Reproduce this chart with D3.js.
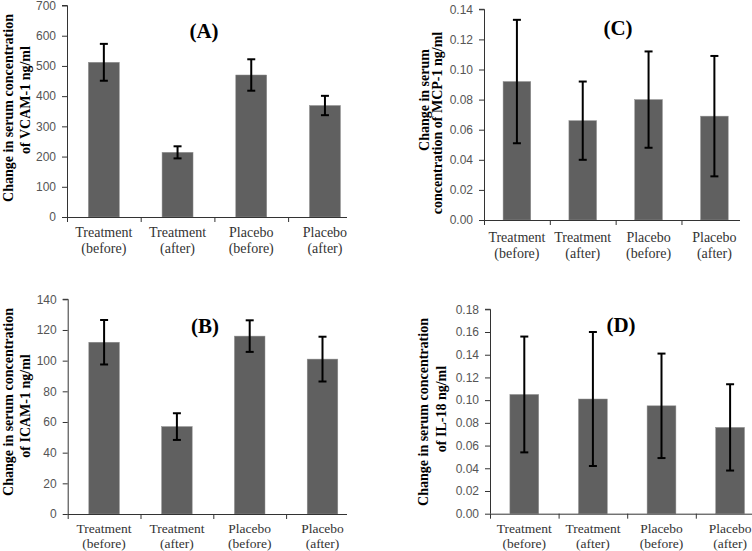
<!DOCTYPE html>
<html>
<head>
<meta charset="utf-8">
<script src="https://cdn.jsdelivr.net/npm/d3@7"></script>
<style>
  html, body { margin: 0; padding: 0; background: #fff; }
  svg { display: block; }
  .tick text { font-family: "Liberation Sans", Arial, sans-serif; }
</style>
</head>
<body>
<svg id="chart" width="752" height="551"></svg>
<script>
// ---- data ----
const categories = ["Treatment (before)", "Treatment (after)", "Placebo (before)", "Placebo (after)"];
const catLine1 = ["Treatment", "Treatment", "Placebo", "Placebo"];
const catLine2 = ["(before)", "(after)", "(before)", "(after)"];

const vcamMeans = [512, 214, 470, 369];
const vcamErrors = [61, 20, 52, 32];
const vcamTicks = [0, 100, 200, 300, 400, 500, 600, 700];

const icamMeans = [112, 57, 116, 101];
const icamErrors = [14.5, 8.7, 10.3, 14.6];
const icamTicks = [0, 20, 40, 60, 80, 100, 120, 140];

const mcpMeans = [0.092, 0.066, 0.080, 0.069];
const mcpErrors = [0.041, 0.026, 0.032, 0.040];
const mcpTicks = [0, 0.02, 0.04, 0.06, 0.08, 0.10, 0.12, 0.14];

const il18Means = [0.105, 0.101, 0.095, 0.076];
const il18Errors = [0.051, 0.059, 0.046, 0.038];
const il18Ticks = [0, 0.02, 0.04, 0.06, 0.08, 0.10, 0.12, 0.14, 0.16, 0.18];

// ---- layout ----
const panels = [
  { label: "(A)", means: vcamMeans, errors: vcamErrors, ticks: vcamTicks, fmt: d3.format("d"),
    x0: 67, x1: 361.8, axisEnd: 347, yBottom: 217, yTop: 5.5, cat1: 20, cat2: 36, catSize: 14,
    labelX: 204, labelY: 38,
    titles: [{ text: "Change in serum concentration", x: 13, y: 108 }, { text: "of VCAM-1 ng/ml", x: 30, y: 100 }] },
  { label: "(B)", means: icamMeans, errors: icamErrors, ticks: icamTicks, fmt: d3.format("d"),
    x0: 67.7, x1: 358.9, axisEnd: 347, yBottom: 514, yTop: 299.3, cat1: 19, cat2: 34, catSize: 13.5,
    labelX: 205, labelY: 333,
    titles: [{ text: "Change in serum concentration", x: 13, y: 402 }, { text: "of ICAM-1 ng/ml", x: 30, y: 406 }] },
  { label: "(C)", means: mcpMeans, errors: mcpErrors, ticks: mcpTicks, fmt: d3.format(".2f"),
    x0: 484, x1: 747.3, axisEnd: 740, yBottom: 220, yTop: 9.3, cat1: 22, cat2: 38, catSize: 14,
    labelX: 618, labelY: 35,
    titles: [{ text: "Change in serum", x: 429, y: 100 }, { text: "concentration of MCP-1 ng/ml", x: 442, y: 123 }] },
  { label: "(D)", means: il18Means, errors: il18Errors, ticks: il18Ticks, fmt: d3.format(".2f"),
    x0: 490, x1: 764.4, axisEnd: 752, yBottom: 513.7, yTop: 309.3, cat1: 19, cat2: 34, catSize: 13.5,
    labelX: 621, labelY: 332,
    titles: [{ text: "Change in serum concentration", x: 428, y: 412 }, { text: "of IL-18 ng/ml", x: 446, y: 409 }] }
];

const svg = d3.select("#chart");

panels.forEach(p => {
  const g = svg.append("g");
  const ymax = p.ticks[p.ticks.length - 1];
  const y = d3.scaleLinear().domain([0, ymax]).range([p.yBottom, p.yTop]);
  const xOuter = d3.scaleBand().domain(categories).range([p.x0, p.x1]).padding(0);
  const x = d3.scaleBand().domain(categories).range([p.x0, p.x1]).paddingInner(0.58).paddingOuter(0.29);

  // bars
  g.selectAll("rect.bar").data(categories).join("rect")
    .attr("class", "bar")
    .attr("x", d => x(d))
    .attr("width", x.bandwidth())
    .attr("y", (d, i) => y(p.means[i]))
    .attr("height", (d, i) => p.yBottom - y(p.means[i]))
    .attr("fill", "#606060")
    .attr("stroke", "#909090")
    .attr("stroke-width", 0.5);

  // error bars
  const cx = d => x(d) + x.bandwidth() / 2;
  g.selectAll("line.err").data(categories).join("line")
    .attr("x1", cx).attr("x2", cx)
    .attr("y1", (d, i) => y(p.means[i] + p.errors[i]))
    .attr("y2", (d, i) => y(p.means[i] - p.errors[i]))
    .attr("stroke", "#000").attr("stroke-width", 2);
  [1, -1].forEach(s => {
    g.selectAll("line.cap" + s).data(categories).join("line")
      .attr("x1", d => cx(d) - 4).attr("x2", d => cx(d) + 4)
      .attr("y1", (d, i) => y(p.means[i] + s * p.errors[i]))
      .attr("y2", (d, i) => y(p.means[i] + s * p.errors[i]))
      .attr("stroke", "#000").attr("stroke-width", 2);
  });

  // y axis
  const yAxis = d3.axisLeft(y).tickValues(p.ticks).tickFormat(p.fmt).tickSize(5).tickPadding(6);
  const ya = g.append("g").attr("transform", `translate(${p.x0},0)`).call(yAxis);
  ya.select(".domain").attr("d", `M-5,${p.yTop}H0.5V${p.yBottom}`).attr("stroke", "#333");
  ya.selectAll(".tick line").attr("stroke", "#333");
  ya.selectAll(".tick text").attr("fill", "#555").style("font-size", "12px");

  // x axis line and boundary ticks
  g.append("line")
    .attr("x1", p.x0).attr("x2", p.axisEnd)
    .attr("y1", p.yBottom + 0.5).attr("y2", p.yBottom + 0.5)
    .attr("stroke", "#333");
  g.selectAll("line.xt").data(categories).join("line")
    .attr("x1", d => xOuter(d) + 0.5).attr("x2", d => xOuter(d) + 0.5)
    .attr("y1", p.yBottom).attr("y2", p.yBottom + 5)
    .attr("stroke", "#333");

  // category labels
  const lab = g.selectAll("text.cat").data(categories).join("text")
    .attr("x", cx)
    .attr("text-anchor", "middle")
    .style("font-family", "'Liberation Serif', 'Times New Roman', serif")
    .style("font-size", p.catSize + "px")
    .attr("fill", "#333");
  lab.append("tspan").attr("x", cx).attr("y", p.yBottom + p.cat1).text((d, i) => catLine1[i]);
  lab.append("tspan").attr("x", cx).attr("y", p.yBottom + p.cat2).text((d, i) => catLine2[i]);

  // y titles
  p.titles.forEach(t => {
    g.append("text")
      .attr("transform", `translate(${t.x},${t.y}) rotate(-90)`)
      .attr("text-anchor", "middle")
      .style("font-family", "'Liberation Serif', 'Times New Roman', serif")
      .style("font-size", "14px")
      .style("font-weight", "bold")
      .attr("fill", "#000")
      .text(t.text);
  });

  // panel label
  g.append("text")
    .attr("x", p.labelX).attr("y", p.labelY)
    .attr("text-anchor", "middle")
    .style("font-family", "'Liberation Serif', 'Times New Roman', serif")
    .style("font-size", "21px")
    .style("font-weight", "bold")
    .attr("fill", "#000")
    .text(p.label);
});
</script>
</body>
</html>
